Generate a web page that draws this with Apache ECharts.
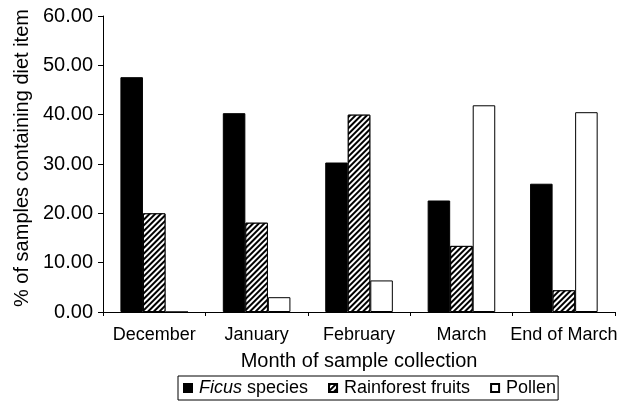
<!DOCTYPE html>
<html>
<head>
<meta charset="utf-8">
<script src="https://cdn.jsdelivr.net/npm/echarts@6/dist/echarts.min.js"></script>
<style>
html,body{margin:0;padding:0;background:#fff;}
#c{width:620px;height:406px;}
</style>
</head>
<body>
<div id="c"></div>
<script>
var categories = ['December', 'January', 'February', 'March', 'End of March'];
var ficus = [47.6, 40.3, 30.3, 22.6, 26.0];
var rainforest = [20.0, 18.1, 40.0, 13.4, 4.4];
var pollen = [0, 3.0, 6.4, 41.9, 40.5];
var yTicks = [0, 10, 20, 30, 40, 50, 60];

var FONT = 'Liberation Sans, Arial, sans-serif';
var chart = echarts.init(document.getElementById('c'), null, {renderer: 'canvas'});
var hatch = {
  symbol: 'rect',
  symbolSize: 1,
  dashArrayX: [1, 0],
  dashArrayY: [1.5, 2],
  rotation: -Math.PI / 4,
  color: '#000',
  backgroundColor: '#fff'
};
chart.setOption({
  animation: false,
  backgroundColor: '#fff',
  textStyle: {fontFamily: FONT, color: '#000'},
  grid: {left: 103, right: 1, top: 16, bottom: 94, containLabel: false},
  legend: {
    left: 178,
    top: 376,
    orient: 'horizontal',
    icon: 'rect',
    itemWidth: 8,
    itemHeight: 8,
    itemGap: 20,
    padding: [3, 2, 3, 5],
    borderColor: '#000',
    borderWidth: 1,
    borderRadius: 0,
    textStyle: {fontFamily: FONT, fontSize: 18, color: '#000', padding: [0, 0, 0, 2],
      rich: {i: {fontFamily: FONT, fontSize: 18, fontStyle: 'italic', color: '#000'}}},
    formatter: function (name) {
      if (name === 'Ficus species') return '{i|Ficus} species';
      return name;
    },
    data: ['Ficus species', 'Rainforest fruits', 'Pollen']
  },
  xAxis: {
    type: 'category',
    data: categories,
    name: 'Month of sample collection',
    nameLocation: 'middle',
    nameGap: 39,
    nameTextStyle: {fontFamily: FONT, fontSize: 20, color: '#000'},
    axisLine: {lineStyle: {color: '#000', width: 1}},
    axisTick: {show: true, inside: false, length: 4, lineStyle: {color: '#000'}},
    axisLabel: {fontFamily: FONT, fontSize: 18, color: '#000', margin: 14, interval: 0}
  },
  yAxis: {
    type: 'value',
    min: 0,
    max: 60,
    interval: 10,
    name: '% of samples containing diet item',
    nameLocation: 'middle',
    nameGap: 70,
    nameTextStyle: {fontFamily: FONT, fontSize: 20, color: '#000', padding: [0, 0, 0, 12]},
    axisLine: {show: true, lineStyle: {color: '#000', width: 1}},
    axisTick: {show: true, inside: false, length: 5, lineStyle: {color: '#000'}},
    splitLine: {show: false},
    axisLabel: {fontFamily: FONT, fontSize: 20, color: '#000', margin: 10,
      formatter: function (v) { return yTicks.indexOf(v) >= 0 ? v.toFixed(2) : ''; }}
  },
  series: [
    {name: 'Ficus species', type: 'bar', data: ficus, barGap: '0%', barCategoryGap: '34%',
      itemStyle: {color: '#000', borderColor: '#000', borderWidth: 1}},
    {name: 'Rainforest fruits', type: 'bar', data: rainforest,
      itemStyle: {color: '#fff', borderColor: '#000', borderWidth: 1, decal: hatch}},
    {name: 'Pollen', type: 'bar', data: pollen,
      itemStyle: {color: '#fff', borderColor: '#000', borderWidth: 1}}
  ]
});
</script>
</body>
</html>
